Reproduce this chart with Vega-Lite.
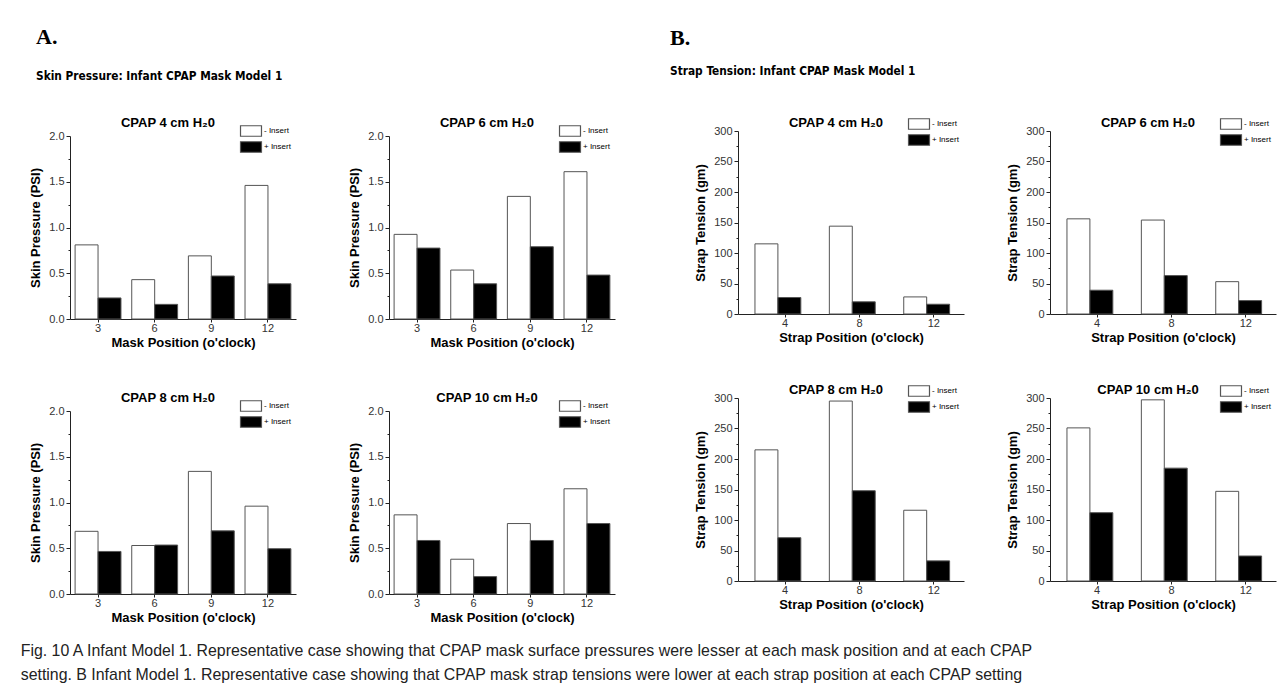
{
  "$schema": "https://vega.github.io/schema/vega-lite/v6.json",
  "background": "white",
  "padding": {"left": 20, "top": 26, "right": 5, "bottom": 5},
  "datasets": {
    "skin": [
      {"cpap": 4, "pos": 3, "insert": "- Insert", "v": 0.81},
      {"cpap": 4, "pos": 3, "insert": "+ Insert", "v": 0.23},
      {"cpap": 4, "pos": 6, "insert": "- Insert", "v": 0.43},
      {"cpap": 4, "pos": 6, "insert": "+ Insert", "v": 0.16},
      {"cpap": 4, "pos": 9, "insert": "- Insert", "v": 0.69},
      {"cpap": 4, "pos": 9, "insert": "+ Insert", "v": 0.47},
      {"cpap": 4, "pos": 12, "insert": "- Insert", "v": 1.46},
      {"cpap": 4, "pos": 12, "insert": "+ Insert", "v": 0.385},
      {"cpap": 6, "pos": 3, "insert": "- Insert", "v": 0.925},
      {"cpap": 6, "pos": 3, "insert": "+ Insert", "v": 0.775},
      {"cpap": 6, "pos": 6, "insert": "- Insert", "v": 0.535},
      {"cpap": 6, "pos": 6, "insert": "+ Insert", "v": 0.385},
      {"cpap": 6, "pos": 9, "insert": "- Insert", "v": 1.34},
      {"cpap": 6, "pos": 9, "insert": "+ Insert", "v": 0.79},
      {"cpap": 6, "pos": 12, "insert": "- Insert", "v": 1.61},
      {"cpap": 6, "pos": 12, "insert": "+ Insert", "v": 0.48},
      {"cpap": 8, "pos": 3, "insert": "- Insert", "v": 0.685},
      {"cpap": 8, "pos": 3, "insert": "+ Insert", "v": 0.465},
      {"cpap": 8, "pos": 6, "insert": "- Insert", "v": 0.53},
      {"cpap": 8, "pos": 6, "insert": "+ Insert", "v": 0.535},
      {"cpap": 8, "pos": 9, "insert": "- Insert", "v": 1.34},
      {"cpap": 8, "pos": 9, "insert": "+ Insert", "v": 0.69},
      {"cpap": 8, "pos": 12, "insert": "- Insert", "v": 0.96},
      {"cpap": 8, "pos": 12, "insert": "+ Insert", "v": 0.495},
      {"cpap": 10, "pos": 3, "insert": "- Insert", "v": 0.865},
      {"cpap": 10, "pos": 3, "insert": "+ Insert", "v": 0.585},
      {"cpap": 10, "pos": 6, "insert": "- Insert", "v": 0.38},
      {"cpap": 10, "pos": 6, "insert": "+ Insert", "v": 0.19},
      {"cpap": 10, "pos": 9, "insert": "- Insert", "v": 0.77},
      {"cpap": 10, "pos": 9, "insert": "+ Insert", "v": 0.585},
      {"cpap": 10, "pos": 12, "insert": "- Insert", "v": 1.15},
      {"cpap": 10, "pos": 12, "insert": "+ Insert", "v": 0.77}
    ],
    "strap": [
      {"cpap": 4, "pos": 4, "insert": "- Insert", "v": 115},
      {"cpap": 4, "pos": 4, "insert": "+ Insert", "v": 27},
      {"cpap": 4, "pos": 8, "insert": "- Insert", "v": 144},
      {"cpap": 4, "pos": 8, "insert": "+ Insert", "v": 20},
      {"cpap": 4, "pos": 12, "insert": "- Insert", "v": 28},
      {"cpap": 4, "pos": 12, "insert": "+ Insert", "v": 16},
      {"cpap": 6, "pos": 4, "insert": "- Insert", "v": 156},
      {"cpap": 6, "pos": 4, "insert": "+ Insert", "v": 39},
      {"cpap": 6, "pos": 8, "insert": "- Insert", "v": 154},
      {"cpap": 6, "pos": 8, "insert": "+ Insert", "v": 63},
      {"cpap": 6, "pos": 12, "insert": "- Insert", "v": 53},
      {"cpap": 6, "pos": 12, "insert": "+ Insert", "v": 22},
      {"cpap": 8, "pos": 4, "insert": "- Insert", "v": 215},
      {"cpap": 8, "pos": 4, "insert": "+ Insert", "v": 71},
      {"cpap": 8, "pos": 8, "insert": "- Insert", "v": 295},
      {"cpap": 8, "pos": 8, "insert": "+ Insert", "v": 148},
      {"cpap": 8, "pos": 12, "insert": "- Insert", "v": 116},
      {"cpap": 8, "pos": 12, "insert": "+ Insert", "v": 33},
      {"cpap": 10, "pos": 4, "insert": "- Insert", "v": 251},
      {"cpap": 10, "pos": 4, "insert": "+ Insert", "v": 112},
      {"cpap": 10, "pos": 8, "insert": "- Insert", "v": 297},
      {"cpap": 10, "pos": 8, "insert": "+ Insert", "v": 185},
      {"cpap": 10, "pos": 12, "insert": "- Insert", "v": 147},
      {"cpap": 10, "pos": 12, "insert": "+ Insert", "v": 41}
    ]
  },
  "title": {
    "text": [
      "Fig. 10  A Infant Model 1. Representative case showing that CPAP mask surface pressures were lesser at each mask position and at each CPAP",
      "setting. B Infant Model 1. Representative case showing that CPAP mask strap tensions were lower at each strap position at each CPAP setting"
    ],
    "orient": "bottom",
    "anchor": "start",
    "frame": "bounds",
    "font": "Liberation Sans",
    "fontSize": 15.9,
    "fontWeight": "normal",
    "lineHeight": 24,
    "color": "#222",
    "offset": 19,
    "dx": -9
  },
  "hconcat": [
    {
      "title": {
        "text": "A.",
        "subtitle": "Skin Pressure: Infant CPAP Mask  Model 1",
        "anchor": "start",
        "frame": "group",
        "font": "Liberation Serif",
        "fontSize": 22,
        "fontWeight": "bold",
        "color": "#000",
        "subtitleFont": "DejaVu Sans Condensed",
        "subtitleFontSize": 11.8,
        "subtitleFontWeight": "bold",
        "subtitleColor": "#000",
        "subtitlePadding": 22,
        "dx": -34,
        "offset": 33
      },
      "columns": 2,
      "spacing": {"row": 92, "column": 93},
      "bounds": "flush",
      "resolve": {"scale": {"fill": "independent"}, "legend": {"fill": "independent"}},
      "concat": [
        {
          "title": "CPAP 4 cm H₂0",
          "width": 226, "height": 183,
          "data": {"name": "skin"},
          "transform": [{"filter": "datum.cpap == 4"}],
          "mark": {"type": "bar", "stroke": "#555", "strokeWidth": 1},
          "encoding": {
            "x": {"field": "pos", "type": "ordinal", "scale": {"paddingInner": 0.19, "paddingOuter": 0.09}, "axis": {"title": "Mask Position (o'clock)"}},
            "xOffset": {"field": "insert", "type": "nominal", "sort": ["- Insert", "+ Insert"], "scale": {"paddingInner": 0, "paddingOuter": 0}},
            "y": {"field": "v", "type": "quantitative", "scale": {"domain": [0, 2]}, "axis": {"values": [0, 0.25, 0.5, 0.75, 1, 1.25, 1.5, 1.75, 2], "labelExpr": "datum.value % 0.5 ? '' : format(datum.value, '.1f')", "tickSize": {"condition": {"test": "datum.value % 0.5 !== 0", "value": 2}, "value": 4}, "title": "Skin Pressure (PSI)"}},
            "fill": {"field": "insert", "type": "nominal", "scale": {"domain": ["- Insert", "+ Insert"], "range": ["#ffffff", "#000000"]}, "legend": {"title": null, "orient": "none", "legendX": 175, "legendY": -11}}
          }
        },
        {
          "title": "CPAP 6 cm H₂0",
          "width": 226, "height": 183,
          "data": {"name": "skin"},
          "transform": [{"filter": "datum.cpap == 6"}],
          "mark": {"type": "bar", "stroke": "#555", "strokeWidth": 1},
          "encoding": {
            "x": {"field": "pos", "type": "ordinal", "scale": {"paddingInner": 0.19, "paddingOuter": 0.09}, "axis": {"title": "Mask Position (o'clock)"}},
            "xOffset": {"field": "insert", "type": "nominal", "sort": ["- Insert", "+ Insert"], "scale": {"paddingInner": 0, "paddingOuter": 0}},
            "y": {"field": "v", "type": "quantitative", "scale": {"domain": [0, 2]}, "axis": {"values": [0, 0.25, 0.5, 0.75, 1, 1.25, 1.5, 1.75, 2], "labelExpr": "datum.value % 0.5 ? '' : format(datum.value, '.1f')", "tickSize": {"condition": {"test": "datum.value % 0.5 !== 0", "value": 2}, "value": 4}, "title": "Skin Pressure (PSI)"}},
            "fill": {"field": "insert", "type": "nominal", "scale": {"domain": ["- Insert", "+ Insert"], "range": ["#ffffff", "#000000"]}, "legend": {"title": null, "orient": "none", "legendX": 175, "legendY": -11}}
          }
        },
        {
          "title": "CPAP 8 cm H₂0",
          "width": 226, "height": 183,
          "data": {"name": "skin"},
          "transform": [{"filter": "datum.cpap == 8"}],
          "mark": {"type": "bar", "stroke": "#555", "strokeWidth": 1},
          "encoding": {
            "x": {"field": "pos", "type": "ordinal", "scale": {"paddingInner": 0.19, "paddingOuter": 0.09}, "axis": {"title": "Mask Position (o'clock)"}},
            "xOffset": {"field": "insert", "type": "nominal", "sort": ["- Insert", "+ Insert"], "scale": {"paddingInner": 0, "paddingOuter": 0}},
            "y": {"field": "v", "type": "quantitative", "scale": {"domain": [0, 2]}, "axis": {"values": [0, 0.25, 0.5, 0.75, 1, 1.25, 1.5, 1.75, 2], "labelExpr": "datum.value % 0.5 ? '' : format(datum.value, '.1f')", "tickSize": {"condition": {"test": "datum.value % 0.5 !== 0", "value": 2}, "value": 4}, "title": "Skin Pressure (PSI)"}},
            "fill": {"field": "insert", "type": "nominal", "scale": {"domain": ["- Insert", "+ Insert"], "range": ["#ffffff", "#000000"]}, "legend": {"title": null, "orient": "none", "legendX": 175, "legendY": -11}}
          }
        },
        {
          "title": "CPAP 10 cm H₂0",
          "width": 226, "height": 183,
          "data": {"name": "skin"},
          "transform": [{"filter": "datum.cpap == 10"}],
          "mark": {"type": "bar", "stroke": "#555", "strokeWidth": 1},
          "encoding": {
            "x": {"field": "pos", "type": "ordinal", "scale": {"paddingInner": 0.19, "paddingOuter": 0.09}, "axis": {"title": "Mask Position (o'clock)"}},
            "xOffset": {"field": "insert", "type": "nominal", "sort": ["- Insert", "+ Insert"], "scale": {"paddingInner": 0, "paddingOuter": 0}},
            "y": {"field": "v", "type": "quantitative", "scale": {"domain": [0, 2]}, "axis": {"values": [0, 0.25, 0.5, 0.75, 1, 1.25, 1.5, 1.75, 2], "labelExpr": "datum.value % 0.5 ? '' : format(datum.value, '.1f')", "tickSize": {"condition": {"test": "datum.value % 0.5 !== 0", "value": 2}, "value": 4}, "title": "Skin Pressure (PSI)"}},
            "fill": {"field": "insert", "type": "nominal", "scale": {"domain": ["- Insert", "+ Insert"], "range": ["#ffffff", "#000000"]}, "legend": {"title": null, "orient": "none", "legendX": 175, "legendY": -11}}
          }
        }
      ]
    },
    {
      "title": {
        "text": "B.",
        "subtitle": "Strap Tension: Infant CPAP Mask Model 1",
        "anchor": "start",
        "frame": "group",
        "font": "Liberation Serif",
        "fontSize": 22,
        "fontWeight": "bold",
        "color": "#000",
        "subtitleFont": "DejaVu Sans Condensed",
        "subtitleFontSize": 11.8,
        "subtitleFontWeight": "bold",
        "subtitleColor": "#000",
        "subtitlePadding": 16,
        "dx": -68,
        "offset": 38
      },
      "columns": 2,
      "spacing": {"row": 89, "column": 86},
      "bounds": "flush",
      "resolve": {"scale": {"fill": "independent"}, "legend": {"fill": "independent"}},
      "concat": [
        {
          "title": {"text": "CPAP 4 cm H₂0", "offset": -12},
          "width": 226, "height": 178,
          "data": {"name": "strap"},
          "transform": [{"filter": "datum.cpap == 4"}],
          "mark": {"type": "bar", "stroke": "#555", "strokeWidth": 1},
          "encoding": {
            "x": {"field": "pos", "type": "ordinal", "scale": {"paddingInner": 0.19, "paddingOuter": 0.114, "align": 1}, "axis": {"title": "Strap Position (o'clock)"}},
            "xOffset": {"field": "insert", "type": "nominal", "sort": ["- Insert", "+ Insert"], "scale": {"paddingInner": 0, "paddingOuter": 0}},
            "y": {"field": "v", "type": "quantitative", "scale": {"domain": [0, 300], "range": [178, -5]}, "axis": {"values": [0, 25, 50, 75, 100, 125, 150, 175, 200, 225, 250, 275, 300], "labelExpr": "datum.value % 50 ? '' : datum.label", "tickSize": {"condition": {"test": "datum.value % 50 !== 0", "value": 2}, "value": 4}, "title": "Strap Tension (gm)"}},
            "fill": {"field": "insert", "type": "nominal", "scale": {"domain": ["- Insert", "+ Insert"], "range": ["#ffffff", "#000000"]}, "legend": {"title": null, "orient": "none", "legendX": 175, "legendY": -18}}
          }
        },
        {
          "title": {"text": "CPAP 6 cm H₂0", "offset": -12},
          "width": 226, "height": 178,
          "data": {"name": "strap"},
          "transform": [{"filter": "datum.cpap == 6"}],
          "mark": {"type": "bar", "stroke": "#555", "strokeWidth": 1},
          "encoding": {
            "x": {"field": "pos", "type": "ordinal", "scale": {"paddingInner": 0.19, "paddingOuter": 0.114, "align": 1}, "axis": {"title": "Strap Position (o'clock)"}},
            "xOffset": {"field": "insert", "type": "nominal", "sort": ["- Insert", "+ Insert"], "scale": {"paddingInner": 0, "paddingOuter": 0}},
            "y": {"field": "v", "type": "quantitative", "scale": {"domain": [0, 300], "range": [178, -5]}, "axis": {"values": [0, 25, 50, 75, 100, 125, 150, 175, 200, 225, 250, 275, 300], "labelExpr": "datum.value % 50 ? '' : datum.label", "tickSize": {"condition": {"test": "datum.value % 50 !== 0", "value": 2}, "value": 4}, "title": "Strap Tension (gm)"}},
            "fill": {"field": "insert", "type": "nominal", "scale": {"domain": ["- Insert", "+ Insert"], "range": ["#ffffff", "#000000"]}, "legend": {"title": null, "orient": "none", "legendX": 175, "legendY": -18}}
          }
        },
        {
          "title": {"text": "CPAP 8 cm H₂0", "offset": -12},
          "width": 226, "height": 178,
          "data": {"name": "strap"},
          "transform": [{"filter": "datum.cpap == 8"}],
          "mark": {"type": "bar", "stroke": "#555", "strokeWidth": 1},
          "encoding": {
            "x": {"field": "pos", "type": "ordinal", "scale": {"paddingInner": 0.19, "paddingOuter": 0.114, "align": 1}, "axis": {"title": "Strap Position (o'clock)"}},
            "xOffset": {"field": "insert", "type": "nominal", "sort": ["- Insert", "+ Insert"], "scale": {"paddingInner": 0, "paddingOuter": 0}},
            "y": {"field": "v", "type": "quantitative", "scale": {"domain": [0, 300], "range": [178, -5]}, "axis": {"values": [0, 25, 50, 75, 100, 125, 150, 175, 200, 225, 250, 275, 300], "labelExpr": "datum.value % 50 ? '' : datum.label", "tickSize": {"condition": {"test": "datum.value % 50 !== 0", "value": 2}, "value": 4}, "title": "Strap Tension (gm)"}},
            "fill": {"field": "insert", "type": "nominal", "scale": {"domain": ["- Insert", "+ Insert"], "range": ["#ffffff", "#000000"]}, "legend": {"title": null, "orient": "none", "legendX": 175, "legendY": -18}}
          }
        },
        {
          "title": {"text": "CPAP 10 cm H₂0", "offset": -12},
          "width": 226, "height": 178,
          "data": {"name": "strap"},
          "transform": [{"filter": "datum.cpap == 10"}],
          "mark": {"type": "bar", "stroke": "#555", "strokeWidth": 1},
          "encoding": {
            "x": {"field": "pos", "type": "ordinal", "scale": {"paddingInner": 0.19, "paddingOuter": 0.114, "align": 1}, "axis": {"title": "Strap Position (o'clock)"}},
            "xOffset": {"field": "insert", "type": "nominal", "sort": ["- Insert", "+ Insert"], "scale": {"paddingInner": 0, "paddingOuter": 0}},
            "y": {"field": "v", "type": "quantitative", "scale": {"domain": [0, 300], "range": [178, -5]}, "axis": {"values": [0, 25, 50, 75, 100, 125, 150, 175, 200, 225, 250, 275, 300], "labelExpr": "datum.value % 50 ? '' : datum.label", "tickSize": {"condition": {"test": "datum.value % 50 !== 0", "value": 2}, "value": 4}, "title": "Strap Tension (gm)"}},
            "fill": {"field": "insert", "type": "nominal", "scale": {"domain": ["- Insert", "+ Insert"], "range": ["#ffffff", "#000000"]}, "legend": {"title": null, "orient": "none", "legendX": 175, "legendY": -18}}
          }
        }
      ]
    }
  ],
  "spacing": 55,
  "resolve": {"scale": {"fill": "independent"}, "legend": {"fill": "independent"}},
  "config": {
    "view": {"stroke": null},
    "font": "Liberation Sans",
    "title": {"font": "Liberation Sans", "fontSize": 13, "fontWeight": "bold", "color": "#000", "anchor": "middle", "frame": "group", "dx": -15, "offset": -5},
    "axis": {"grid": false, "domainColor": "#222", "tickColor": "#222", "labelFont": "Liberation Sans", "labelFontSize": 11, "labelColor": "#333", "titleFont": "Liberation Sans", "titleFontSize": 13, "titleFontWeight": "bold", "titleColor": "#000", "tickSize": 4},
    "axisX": {"labelAngle": 0, "tickSize": 3, "labelPadding": 0, "titlePadding": 3},
    "axisY": {"titlePadding": 6},
    "legend": {"symbolType": "M-2,-1H2V1H-2Z", "symbolSize": 110, "symbolStrokeColor": "#555", "symbolStrokeWidth": 1.2, "labelFont": "Liberation Sans", "labelFontSize": 8, "labelColor": "#000", "rowPadding": 0, "padding": 0, "labelOffset": 7}
  }
}
